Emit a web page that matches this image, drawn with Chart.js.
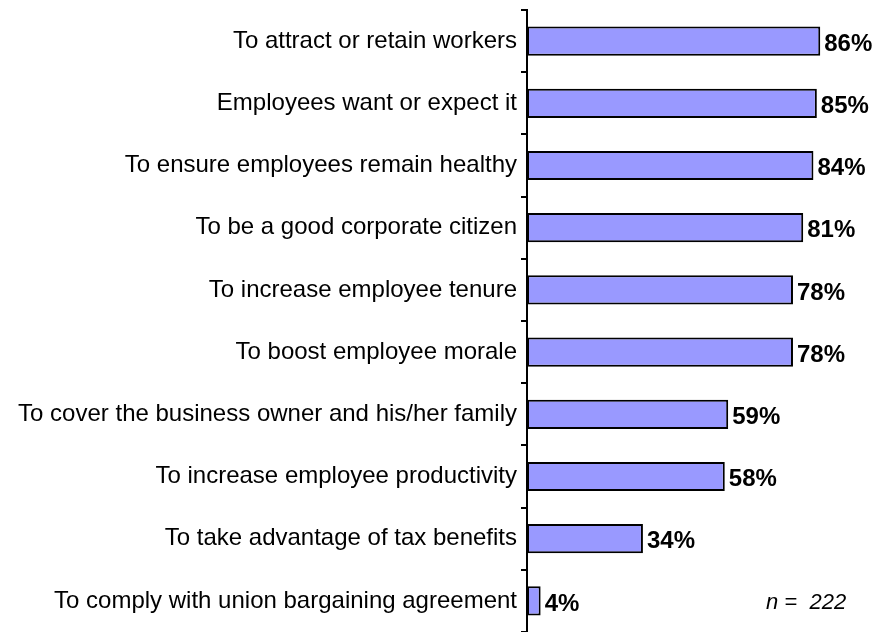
<!DOCTYPE html>
<html>
<head>
<meta charset="utf-8">
<script src="https://cdn.jsdelivr.net/npm/chart.js@4/dist/chart.umd.min.js"></script>
<style>
  html, body { margin: 0; padding: 0; background: #fff; }
  #wrap { width: 878px; height: 632px; }
</style>
</head>
<body>
<div id="wrap"><canvas id="reasonsChart"></canvas></div>
<script>
const reasons = [
  "To attract or retain workers",
  "Employees want or expect it",
  "To ensure employees remain healthy",
  "To be a good corporate citizen",
  "To increase employee tenure",
  "To boost employee morale",
  "To cover the business owner and his/her family",
  "To increase employee productivity",
  "To take advantage of tax benefits",
  "To comply with union bargaining agreement"
];
const percents = [86, 85, 84, 81, 78, 78, 59, 58, 34, 4];
const sampleNote = "n =  222";

// value labels + sample size note
const valueLabels = {
  id: "valueLabels",
  afterDatasetsDraw(chart) {
    const ctx = chart.ctx;
    const meta = chart.getDatasetMeta(0);
    ctx.save();
    ctx.fillStyle = "#000";
    ctx.font = "bold 24px 'Liberation Sans', Arial, sans-serif";
    ctx.textBaseline = "middle";
    meta.data.forEach((bar, i) => {
      ctx.fillText(percents[i] + "%", bar.x + 4, bar.y + 3);
    });
    const last = meta.data[meta.data.length - 1];
    ctx.font = "italic 22px 'Liberation Sans', Arial, sans-serif";
    ctx.fillText(sampleNote, chart.chartArea.left + 239, last.y + 2);
    ctx.restore();
  }
};

new Chart(document.getElementById("reasonsChart"), {
  type: "bar",
  data: {
    labels: reasons,
    datasets: [{
      data: percents,
      backgroundColor: "#9999FF",
      borderColor: "#000",
      borderWidth: 2,
      borderSkipped: false,
      barPercentage: 0.47,
      categoryPercentage: 1
    }]
  },
  options: {
    indexAxis: "y",
    responsive: true,
    maintainAspectRatio: false,
    animation: false,
    layout: { padding: { top: 10, right: 10, bottom: 0, left: 0 } },
    plugins: {
      legend: { display: false },
      tooltip: { enabled: false }
    },
    scales: {
      x: {
        min: 0,
        max: 100,
        display: false
      },
      y: {
        afterFit(scale) {
          scale.width = 527;
          scale.paddingTop = 0;
          scale.paddingBottom = 0;
        },
        border: { display: true, color: "#000", width: 2 },
        grid: {
          drawOnChartArea: false,
          drawTicks: true,
          tickLength: 6,
          color: "#000",
          lineWidth: 2,
          offset: true
        },
        ticks: {
          color: "#000",
          padding: 4,
          font: { family: "'Liberation Sans', Arial, sans-serif", size: 24 }
        }
      }
    }
  },
  plugins: [valueLabels]
});
</script>
</body>
</html>
